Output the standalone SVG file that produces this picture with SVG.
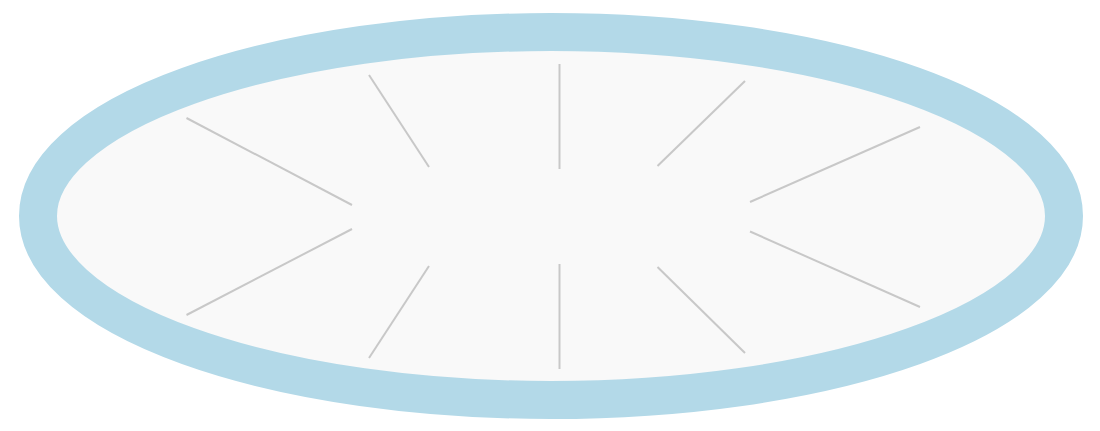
<svg xmlns="http://www.w3.org/2000/svg" width="1100" height="431" viewBox="0 0 1100 431">
<style>
.ring{fill:#f9f9f9;stroke:#b3d9e8;stroke-width:38}
.ray{stroke:#c8c8c8;stroke-width:2;fill:none}
</style>
<rect width="1100" height="431" fill="#ffffff"/>
<ellipse class="ring" cx="551" cy="216" rx="513" ry="184"/>
<g id="rays">
<line class="ray" x1="186.5" y1="118" x2="352" y2="205"/>
<line class="ray" x1="369" y1="75" x2="429" y2="167"/>
<line class="ray" x1="559.5" y1="64" x2="559.5" y2="169"/>
<line class="ray" x1="745" y1="81" x2="657.5" y2="166"/>
<line class="ray" x1="920" y1="127" x2="750" y2="202"/>
<line class="ray" x1="750" y1="231.5" x2="920" y2="307"/>
<line class="ray" x1="657.5" y1="267" x2="745" y2="353"/>
<line class="ray" x1="559.5" y1="264" x2="559.5" y2="369"/>
<line class="ray" x1="429" y1="266" x2="369" y2="358"/>
<line class="ray" x1="352" y1="229" x2="186.5" y2="315"/>
</g>
</svg>
